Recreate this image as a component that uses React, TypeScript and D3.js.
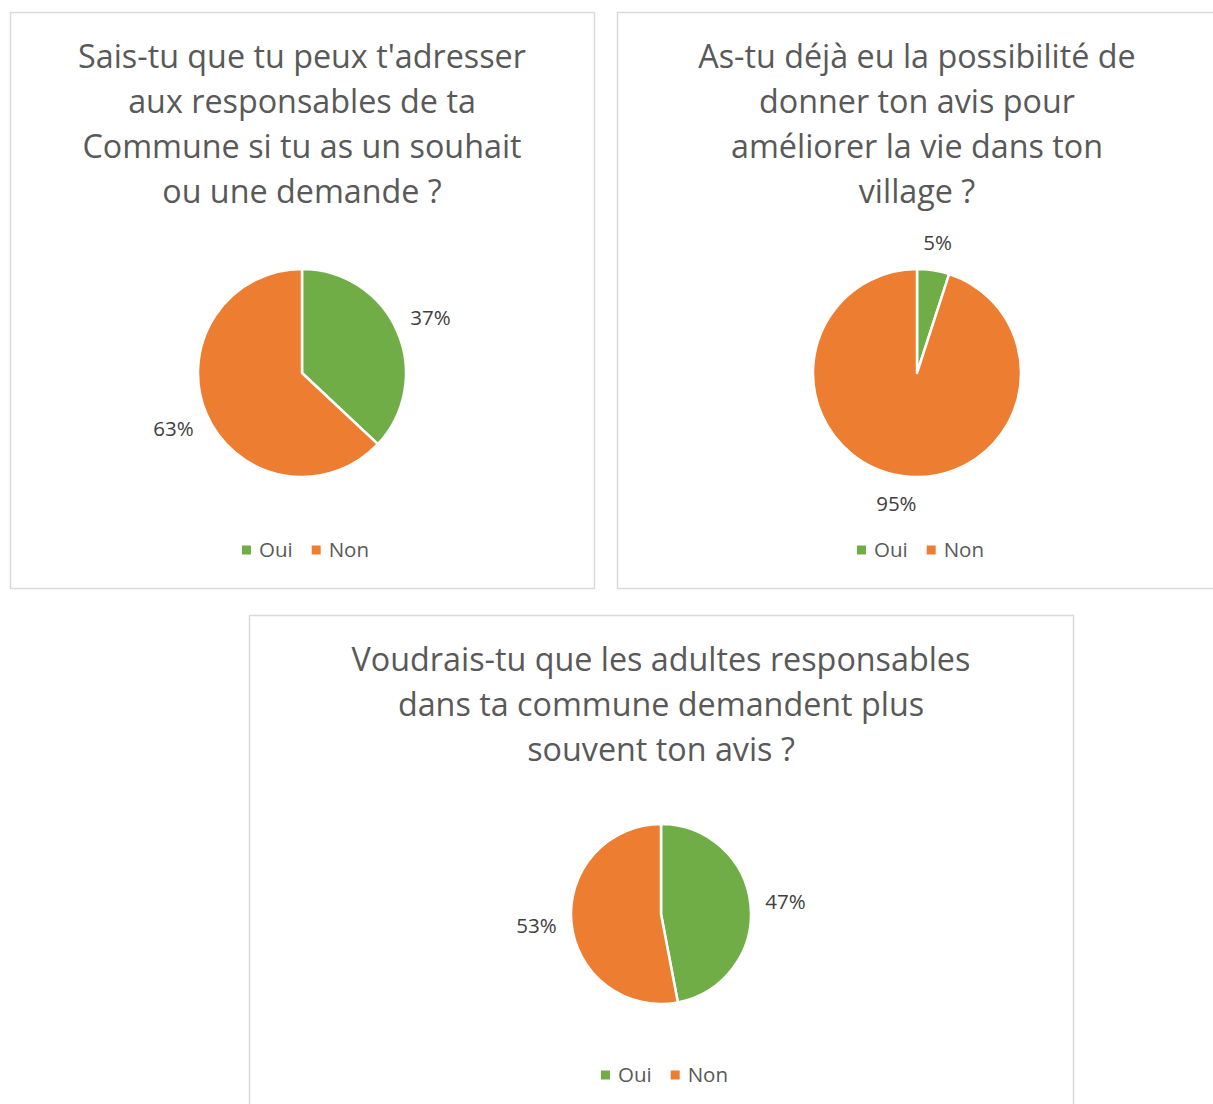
import React, { useEffect, useRef } from "react";
import * as d3 from "d3";

const categories = ["Oui", "Non"];
const colors = ["#70AD47", "#ED7D31"];

const titles = [
  ["Sais-tu que tu peux t'adresser", "aux responsables de ta", "Commune si tu as un souhait", "ou une demande ?"],
  ["As-tu déjà eu la possibilité de", "donner ton avis pour", "améliorer la vie dans ton", "village ?"],
  ["Voudrais-tu que les adultes responsables", "dans ta commune demandent plus", "souvent ton avis ?"],
];

const adresserValues = [37, 63];
const avisValues = [5, 95];
const plusSouventValues = [47, 53];

const seriesList = [adresserValues, avisValues, plusSouventValues];

// panel boxes (layout only)
const panels = [
  { x: 10.5, y: 12.5, w: 584, h: 576, cx: 302, cy: 373, r: 104, titleY: 68, legendY: 550, labelOff: 36 },
  { x: 617.5, y: 12.5, w: 600, h: 576, cx: 917, cy: 373, r: 104, titleY: 68, legendY: 550, labelOff: 28 },
  { x: 249.5, y: 615.5, w: 824, h: 520, cx: 661, cy: 914, r: 90, titleY: 671, legendY: 1075, labelOff: 35 },
];

const App = () => {
  const ref = useRef(null);

  useEffect(() => {
    const svg = d3.select(ref.current);
    svg.selectAll("*").remove();

    const font = "'Open Sans', sans-serif";

    panels.forEach((p, i) => {
      const values = seriesList[i];
      const g = svg.append("g");

      g.append("rect")
        .attr("x", p.x)
        .attr("y", p.y)
        .attr("width", p.w)
        .attr("height", p.h)
        .attr("fill", "#fff")
        .attr("stroke", "#d9d9d9")
        .attr("stroke-width", 1.5);

      const midX = p.x + p.w / 2;

      // Title
      g.append("g")
        .selectAll("text")
        .data(titles[i])
        .join("text")
        .attr("x", p.cx)
        .attr("y", (d, k) => p.titleY + k * 45)
        .attr("text-anchor", "middle")
        .style("font-family", font)
        .style("font-size", "32.3px")
        .style("fill", "#595959")
        .text((d) => d);

      // Pie
      const pie = d3.pie().sort(null).value((d) => d);
      const arcs = pie(values);
      const arc = d3.arc().innerRadius(0).outerRadius(p.r);
      const labelArc = d3.arc().innerRadius(p.r + p.labelOff).outerRadius(p.r + p.labelOff);

      const pg = g.append("g").attr("transform", `translate(${p.cx},${p.cy})`);
      pg.selectAll("path")
        .data(arcs)
        .join("path")
        .attr("d", arc)
        .attr("fill", (d, k) => colors[k])
        .attr("stroke", "#fff")
        .attr("stroke-width", 2.5)
        .attr("stroke-linejoin", "round");

      pg.selectAll("text")
        .data(arcs)
        .join("text")
        .attr("transform", (d) => `translate(${labelArc.centroid(d)})`)
        .attr("text-anchor", "middle")
        .attr("dy", "0.35em")
        .style("font-family", font)
        .style("font-size", "20.5px")
        .style("fill", "#404040")
        .text((d) => `${d.data}%`);

      // Legend
      const lg = g.append("g");
      let x = 0;
      categories.forEach((c, k) => {
        const item = lg.append("g").attr("transform", `translate(${x},0)`);
        item.append("rect")
          .attr("x", 0)
          .attr("y", -4.5)
          .attr("width", 9)
          .attr("height", 9)
          .attr("fill", colors[k]);
        const t = item.append("text")
          .attr("x", 17)
          .attr("y", 0)
          .attr("dy", "0.35em")
          .style("font-family", font)
          .style("font-size", "20.5px")
          .style("fill", "#595959")
          .text(c);
        x += 17 + t.node().getComputedTextLength() + 19;
      });
      const legendW = x - 19;
      lg.attr("transform", `translate(${midX - legendW / 2 + 3},${p.legendY})`);
    });
  }, []);

  return (
    <svg
      ref={ref}
      width={1213}
      height={1104}
      style={{ position: "absolute", left: 0, top: 0, background: "#fff" }}
    ></svg>
  );
};

export default App;
